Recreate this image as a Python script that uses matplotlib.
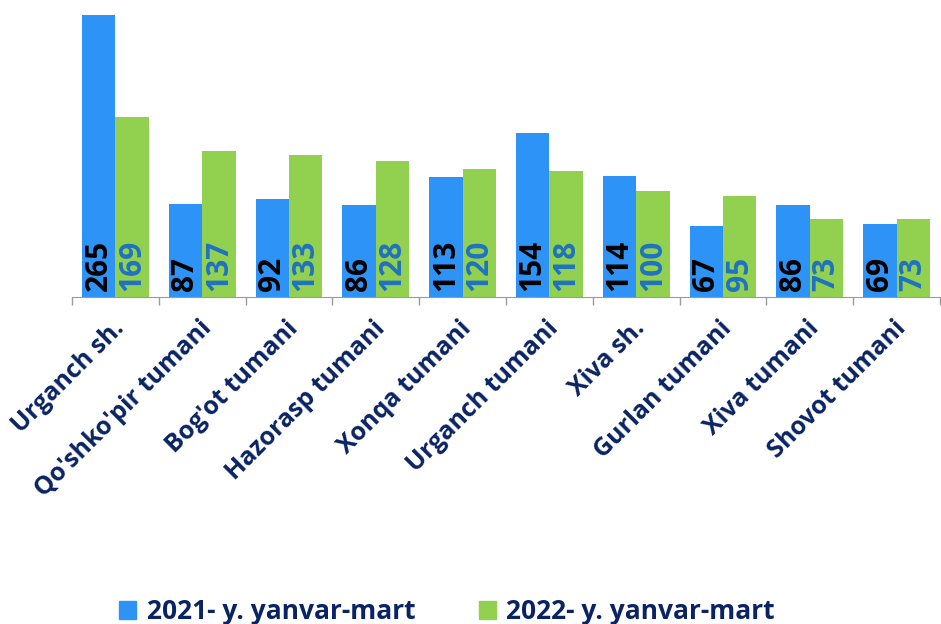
# grouped bar chart: 2021 vs 2022 January-March by district
import matplotlib
matplotlib.use("Agg")
import matplotlib.pyplot as plt
from matplotlib.patches import Patch
import numpy as np

# data
districts = ["Urganch sh.", "Qo'shko'pir tumani", "Bog'ot tumani",
             "Hazorasp tumani", "Xonqa tumani", "Urganch tumani",
             "Xiva sh.", "Gurlan tumani", "Xiva tumani", "Shovot tumani"]
values_2021 = [265, 87, 92, 86, 113, 154, 114, 67, 86, 69]
values_2022 = [169, 137, 133, 128, 120, 118, 100, 95, 73, 73]
series_names = ["2021- y. yanvar-mart", "2022- y. yanvar-mart"]

# colours
blue = "#2E93F7"
green = "#92D050"
navy = "#0A2463"
label_blue = "#1F72C0"

plt.rcParams["font.family"] = ["Open Sans", "DejaVu Sans"]

fig = plt.figure(figsize=(9.41, 6.24), dpi=100)
ax = fig.add_axes([72 / 941, 327 / 624, 868 / 941, 297 / 624])

x_pos = np.arange(len(districts))
width = 0.385

ax.bar(x_pos - width / 2, values_2021, width=width, color=blue)
ax.bar(x_pos + width / 2, values_2022, width=width, color=green)

# value labels inside bars, at the bottom
for x, v in zip(x_pos - width / 2, values_2021):
    ax.text(x, 6, str(v), rotation=90, ha="center", va="bottom",
            fontsize=21.5, fontweight="bold", color="black")
for x, v in zip(x_pos + width / 2, values_2022):
    ax.text(x, 6, str(v), rotation=90, ha="center", va="bottom",
            fontsize=21.5, fontweight="bold", color=label_blue)

ax.set_xlim(-0.5, len(districts) - 0.5)
ax.set_ylim(0, 279)

# category boundary ticks
ax.set_xticks(np.arange(len(districts) + 1) - 0.5)
ax.set_xticklabels([])
ax.tick_params(axis="x", length=6, color="#9a9a9a", width=1)
ax.set_yticks([])

for x, name in zip(x_pos, districts):
    ax.text(x + 0.06, -26, name, rotation=45, rotation_mode="anchor",
            ha="right", va="center", fontsize=18, fontweight="bold",
            color=navy)

for side in ["left", "right", "top"]:
    ax.spines[side].set_visible(False)
ax.spines["bottom"].set_color("#9a9a9a")

# legend
handles = [Patch(color=blue), Patch(color=green)]
fig.legend(handles, series_names, loc="lower center",
           bbox_to_anchor=(0.475, -0.04), ncol=2, frameon=False,
           prop={"size": 19, "weight": "bold"}, labelcolor=navy,
           handlelength=0.65, handleheight=0.65, handletextpad=0.4,
           columnspacing=2.4)

fig.savefig("out.png", dpi=100)
